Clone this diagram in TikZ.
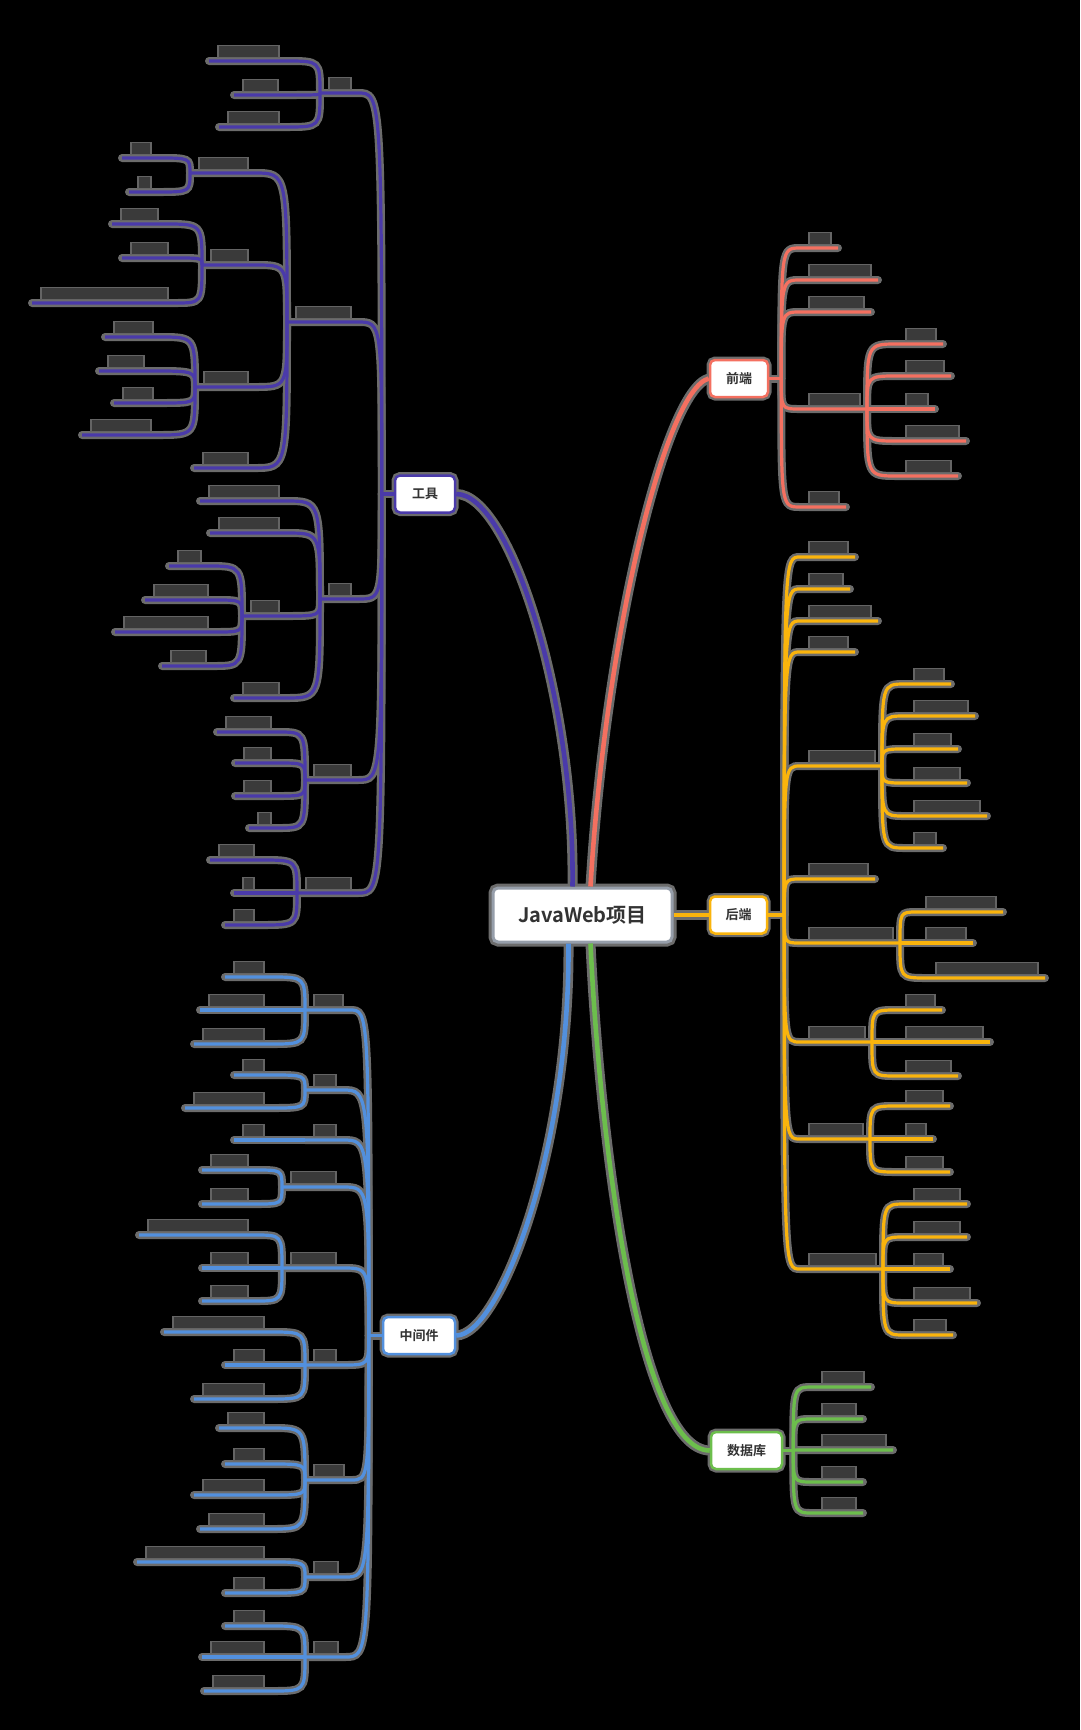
\documentclass[tikz,border=0pt]{standalone}
\usepackage{fontspec}
\usepackage{tikz}
\usetikzlibrary{positioning,calc}
\newfontfamily\cjk{Noto Sans CJK SC}[BoldFont={Noto Sans CJK SC Bold}]
\definecolor{halogray}{RGB}{108,108,108}
\definecolor{leafgray}{RGB}{58,58,58}
\definecolor{leafedge}{RGB}{100,100,100}
\definecolor{topicgray}{RGB}{150,158,170}
\definecolor{inkgray}{RGB}{51,51,51}
\definecolor{gjpurple}{RGB}{74,58,170}
\definecolor{qdred}{RGB}{244,112,96}
\definecolor{hdorange}{RGB}{250,180,12}
\definecolor{zjblue}{RGB}{82,144,222}
\definecolor{sjgreen}{RGB}{108,190,76}
\pgfdeclarelayer{bg}
\pgfdeclarelayer{halo}
\pgfsetlayers{bg,halo,main}
% connector with its grey glow underneath
\newcommand{\conn}[3][glow]{%
  \begin{pgfonlayer}{halo}\draw[#1] #3;\end{pgfonlayer}%
  \draw[#2] #3;}
% leaf on the right: block above its underline, curve from the fan
\newcommand{\rleaf}[6]{%
  \coordinate (#2u) at (#5,#4);
  \coordinate (#2e) at (#6,#4);
  \node[leaf, minimum width={(#6-#5)*1pt}, anchor=south west] (#2) at ([yshift=3pt]#2u) {};
  \conn{#1}{(#3) .. controls (#3 |- #2u) .. ([xshift=-8pt]#2u) -- ([xshift=8pt]#2e)}}
% leaf on the left
\newcommand{\lleaf}[6]{%
  \coordinate (#2u) at (#5,#4);
  \coordinate (#2e) at (#6,#4);
  \node[leaf, minimum width={(#6-#5)*1pt}, anchor=south west] (#2) at ([yshift=3pt]#2u) {};
  \conn{#1}{([xshift=-8pt]#2u) -- ([xshift=8pt]#2e) .. controls (#3 |- #2u) .. (#3)}}

\begin{document}
\begin{tikzpicture}[
    x=1pt, y=-1pt,
    topic/.style={rectangle, rounded corners=5pt, fill=white, draw=topicgray, line width=3pt, minimum width=179pt, minimum height=54pt, text=inkgray, font=\cjk\bfseries\fontsize{20}{24}\selectfont, preaction={draw=halogray, line width=9pt}},
    mtopic/.style={rectangle, rounded corners=5pt, fill=white, line width=2.5pt, minimum height=37pt, text=inkgray, font=\cjk\bfseries\fontsize{13}{15}\selectfont, preaction={draw=halogray, line width=7pt}},
    leaf/.style={rectangle, inner sep=0pt, minimum height=12pt, fill=leafgray, draw=leafedge, line width=1.5pt},
    glow/.style={draw=halogray, line width=8pt, line cap=round},
    bigglow/.style={draw=halogray, line width=10pt, line cap=round},
    thin/.style={line width=3.2pt},
    fat/.style={line width=4.6pt},
    brP/.style={thin, draw=gjpurple}, brR/.style={thin, draw=qdred},
    brO/.style={thin, draw=hdorange}, brB/.style={thin, draw=zjblue},
    brG/.style={thin, draw=sjgreen}
]
\begin{pgfonlayer}{bg}
\fill[black] (0,0) rectangle (1080,1730);
\end{pgfonlayer}
\useasboundingbox (0,0) rectangle (1080,1730);

% Nodes
\node[topic] (top) at (582.5,915) {JavaWeb项目};
\node[mtopic, draw=qdred, minimum width=58pt] (qd) at (739,378.5) {前端};
\node[mtopic, draw=hdorange, minimum width=57pt] (hd) at (738.5,915) {后端};
\node[mtopic, draw=gjpurple, minimum width=60pt] (gj) at (425,494) {工具};
\node[mtopic, draw=zjblue, minimum width=72pt] (zj) at (419,1335.5) {中间件};
\node[mtopic, draw=sjgreen, minimum width=71pt] (sj) at (746.5,1450.5) {数据库};

% Main connections
\conn[bigglow]{fat, draw=gjpurple}{(gj.east) .. controls (510,494) and (575,700) .. ([xshift=-10pt]top.north)}
\conn[bigglow]{fat, draw=qdred}{(qd.west) .. controls (665,390) and (605,640) .. ([xshift=8pt]top.north)}
\conn[bigglow]{fat, draw=zjblue}{(zj.east) .. controls (500,1335) and (570,1150) .. ([xshift=-14pt]top.south)}
\conn[bigglow]{fat, draw=sjgreen}{([xshift=8pt]top.south) .. controls (600,1150) and (640,1450) .. (sj.west)}
\conn[bigglow]{fat, draw=hdorange}{(top.east) -- (hd.west)}

% Fans
\coordinate (qdf) at ([xshift=12pt]qd.east);
\coordinate (hdf) at ([xshift=16pt]hd.east);
\coordinate (gjf) at ([xshift=-12pt]gj.west);
\coordinate (zjf) at ([xshift=-13pt]zj.west);
\coordinate (sjf) at ([xshift=10pt]sj.east);
\conn{brR}{(qd.east) -- (qdf)}
\conn{brO}{(hd.east) -- (hdf)}
\conn{brP}{(gj.west) -- (gjf)}
\conn{brB}{(zj.west) -- (zjf)}
\conn{brG}{(sj.east) -- (sjf)}

% 前端
\rleaf{brR}{q1}{qdf}{248}{808}{830}
\rleaf{brR}{q2}{qdf}{280}{808}{870}
\rleaf{brR}{q3}{qdf}{312}{808}{863}
\rleaf{brR}{q4}{qdf}{409}{808}{859}
\coordinate (q4f) at ([xshift=8pt]q4e);
\rleaf{brR}{q41}{q4f}{344}{905}{935}
\rleaf{brR}{q42}{q4f}{376}{905}{943}
\rleaf{brR}{q43}{q4f}{409}{905}{927}
\rleaf{brR}{q44}{q4f}{441}{905}{958}
\rleaf{brR}{q45}{q4f}{476}{905}{950}
\rleaf{brR}{q5}{qdf}{507}{808}{838}

% 后端
\rleaf{brO}{h1}{hdf}{557}{808}{847}
\rleaf{brO}{h2}{hdf}{589}{808}{842}
\rleaf{brO}{h3}{hdf}{621}{808}{870}
\rleaf{brO}{h4}{hdf}{652}{808}{847}
\rleaf{brO}{h5}{hdf}{766}{808}{874}
\coordinate (h5f) at ([xshift=8pt]h5e);
\rleaf{brO}{h51}{h5f}{684}{913}{943}
\rleaf{brO}{h52}{h5f}{716}{913}{967}
\rleaf{brO}{h53}{h5f}{749}{913}{950}
\rleaf{brO}{h54}{h5f}{783}{913}{959}
\rleaf{brO}{h55}{h5f}{816}{913}{979}
\rleaf{brO}{h56}{h5f}{848}{913}{935}
\rleaf{brO}{h6}{hdf}{879}{808}{867}
\rleaf{brO}{h7}{hdf}{943}{808}{892}
\coordinate (h7f) at ([xshift=8pt]h7e);
\rleaf{brO}{h71}{h7f}{912}{925}{995}
\rleaf{brO}{h72}{h7f}{943}{925}{965}
\rleaf{brO}{h73}{h7f}{978}{935}{1037}
\rleaf{brO}{h8}{hdf}{1042}{808}{864}
\coordinate (h8f) at ([xshift=8pt]h8e);
\rleaf{brO}{h81}{h8f}{1010}{905}{934}
\rleaf{brO}{h82}{h8f}{1042}{905}{982}
\rleaf{brO}{h83}{h8f}{1076}{905}{950}
\rleaf{brO}{h9}{hdf}{1139}{808}{862}
\coordinate (h9f) at ([xshift=8pt]h9e);
\rleaf{brO}{h91}{h9f}{1106}{905}{942}
\rleaf{brO}{h92}{h9f}{1139}{905}{925}
\rleaf{brO}{h93}{h9f}{1172}{905}{942}
\rleaf{brO}{h10}{hdf}{1269}{808}{875}
\coordinate (h10f) at ([xshift=8pt]h10e);
\rleaf{brO}{h101}{h10f}{1204}{913}{959}
\rleaf{brO}{h102}{h10f}{1237}{913}{959}
\rleaf{brO}{h103}{h10f}{1269}{913}{942}
\rleaf{brO}{h104}{h10f}{1303}{913}{969}
\rleaf{brO}{h105}{h10f}{1335}{913}{945}

% 数据库
\rleaf{brG}{s1}{sjf}{1387}{821}{863}
\rleaf{brG}{s2}{sjf}{1419}{821}{855}
\rleaf{brG}{s3}{sjf}{1450}{821}{885}
\rleaf{brG}{s4}{sjf}{1482}{821}{855}
\rleaf{brG}{s5}{sjf}{1513}{821}{855}

% 工具
\lleaf{brP}{g1}{gjf}{93}{328}{350}
\coordinate (g1f) at ([xshift=-8pt]g1u);
\lleaf{brP}{g11}{g1f}{61}{217}{278}
\lleaf{brP}{g12}{g1f}{95}{242}{277}
\lleaf{brP}{g13}{g1f}{127}{227}{278}
\lleaf{brP}{g2}{gjf}{322}{295}{350}
\coordinate (g2f) at ([xshift=-8pt]g2u);
\lleaf{brP}{g21}{g2f}{173}{198}{247}
\coordinate (g21f) at ([xshift=-8pt]g21u);
\lleaf{brP}{g211}{g21f}{158}{130}{150}
\lleaf{brP}{g212}{g21f}{192}{137}{150}
\lleaf{brP}{g22}{g2f}{265}{210}{247}
\coordinate (g22f) at ([xshift=-8pt]g22u);
\lleaf{brP}{g221}{g22f}{224}{120}{157}
\lleaf{brP}{g222}{g22f}{258}{130}{167}
\lleaf{brP}{g223}{g22f}{303}{40}{167}
\lleaf{brP}{g23}{g2f}{387}{203}{247}
\coordinate (g23f) at ([xshift=-8pt]g23u);
\lleaf{brP}{g231}{g23f}{337}{113}{152}
\lleaf{brP}{g232}{g23f}{371}{107}{143}
\lleaf{brP}{g233}{g23f}{403}{122}{152}
\lleaf{brP}{g234}{g23f}{435}{90}{150}
\lleaf{brP}{g24}{g2f}{468}{202}{247}
\lleaf{brP}{g3}{gjf}{599}{328}{350}
\coordinate (g3f) at ([xshift=-8pt]g3u);
\lleaf{brP}{g31}{g3f}{501}{208}{278}
\lleaf{brP}{g32}{g3f}{533}{218}{278}
\lleaf{brP}{g33}{g3f}{616}{250}{278}
\coordinate (g33f) at ([xshift=-8pt]g33u);
\lleaf{brP}{g331}{g33f}{566}{177}{200}
\lleaf{brP}{g332}{g33f}{600}{153}{207}
\lleaf{brP}{g333}{g33f}{632}{123}{207}
\lleaf{brP}{g334}{g33f}{666}{170}{205}
\lleaf{brP}{g34}{g3f}{698}{242}{278}
\lleaf{brP}{g4}{gjf}{780}{313}{350}
\coordinate (g4f) at ([xshift=-8pt]g4u);
\lleaf{brP}{g41}{g4f}{732}{225}{270}
\lleaf{brP}{g42}{g4f}{763}{243}{270}
\lleaf{brP}{g43}{g4f}{796}{243}{270}
\lleaf{brP}{g44}{g4f}{828}{257}{270}
\lleaf{brP}{g5}{gjf}{893}{305}{350}
\coordinate (g5f) at ([xshift=-8pt]g5u);
\lleaf{brP}{g51}{g5f}{860}{218}{253}
\lleaf{brP}{g52}{g5f}{893}{242}{253}
\lleaf{brP}{g53}{g5f}{925}{233}{253}

% 中间件
\lleaf{brB}{z1}{zjf}{1010}{313}{342}
\coordinate (z1f) at ([xshift=-8pt]z1u);
\lleaf{brB}{z11}{z1f}{977}{233}{263}
\lleaf{brB}{z12}{z1f}{1010}{208}{263}
\lleaf{brB}{z13}{z1f}{1044}{202}{263}
\lleaf{brB}{z2}{zjf}{1090}{313}{335}
\coordinate (z2f) at ([xshift=-8pt]z2u);
\lleaf{brB}{z21}{z2f}{1075}{242}{263}
\lleaf{brB}{z22}{z2f}{1108}{193}{263}
\lleaf{brB}{z3}{zjf}{1140}{313}{335}
\coordinate (z3f) at ([xshift=-8pt]z3u);
\lleaf{brB}{z31}{z3f}{1140}{242}{263}
\lleaf{brB}{z4}{zjf}{1187}{290}{335}
\coordinate (z4f) at ([xshift=-8pt]z4u);
\lleaf{brB}{z41}{z4f}{1170}{210}{247}
\lleaf{brB}{z42}{z4f}{1204}{210}{247}
\lleaf{brB}{z5}{zjf}{1268}{290}{335}
\coordinate (z5f) at ([xshift=-8pt]z5u);
\lleaf{brB}{z51}{z5f}{1235}{147}{247}
\lleaf{brB}{z52}{z5f}{1268}{210}{247}
\lleaf{brB}{z53}{z5f}{1301}{210}{247}
\lleaf{brB}{z6}{zjf}{1365}{313}{335}
\coordinate (z6f) at ([xshift=-8pt]z6u);
\lleaf{brB}{z61}{z6f}{1332}{172}{263}
\lleaf{brB}{z62}{z6f}{1365}{233}{263}
\lleaf{brB}{z63}{z6f}{1399}{202}{263}
\lleaf{brB}{z7}{zjf}{1480}{313}{343}
\coordinate (z7f) at ([xshift=-8pt]z7u);
\lleaf{brB}{z71}{z7f}{1428}{227}{263}
\lleaf{brB}{z72}{z7f}{1464}{233}{263}
\lleaf{brB}{z73}{z7f}{1495}{202}{263}
\lleaf{brB}{z74}{z7f}{1529}{208}{263}
\lleaf{brB}{z8}{zjf}{1577}{313}{337}
\coordinate (z8f) at ([xshift=-8pt]z8u);
\lleaf{brB}{z81}{z8f}{1562}{145}{263}
\lleaf{brB}{z82}{z8f}{1593}{233}{263}
\lleaf{brB}{z9}{zjf}{1657}{313}{337}
\coordinate (z9f) at ([xshift=-8pt]z9u);
\lleaf{brB}{z91}{z9f}{1626}{233}{263}
\lleaf{brB}{z92}{z9f}{1657}{210}{263}
\lleaf{brB}{z93}{z9f}{1691}{212}{263}

\end{tikzpicture}
\end{document}
